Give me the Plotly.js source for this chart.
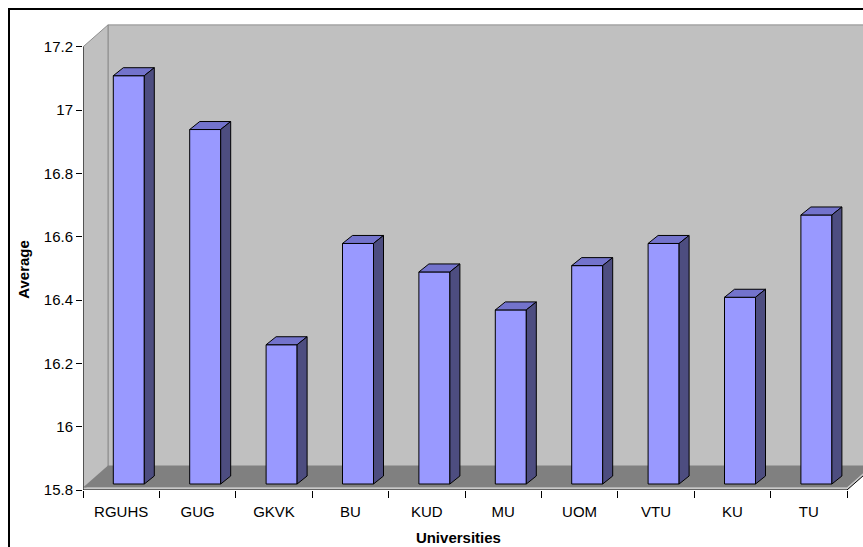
<!DOCTYPE html>
<html>
<head>
<meta charset="utf-8">
<script src="https://cdn.plot.ly/plotly-3.0.1.min.js"></script>
<style>
  html, body { margin: 0; padding: 0; background: #fff; overflow: hidden; }
  #wrap { position: relative; width: 863px; height: 547px; overflow: hidden; }
  #chart { position: absolute; left: 0; top: 0; width: 863px; height: 547px; }
  #frame { position: absolute; left: 8px; top: 8px; width: 1000px; height: 1000px;
           border: 2px solid #000; pointer-events: none; }
</style>
</head>
<body>
<div id="wrap">
  <div id="chart"></div>
  <div id="frame"></div>
</div>
<script>
// ---- data ----
const categories = ['RGUHS', 'GUG', 'GKVK', 'BU', 'KUD', 'MU', 'UOM', 'VTU', 'KU', 'TU'];
const averages   = [17.09, 16.92, 16.24, 16.56, 16.47, 16.35, 16.49, 16.56, 16.39, 16.65];
const yTickVals  = [15.8, 16, 16.2, 16.4, 16.6, 16.8, 17, 17.2];
const yTickText  = ['15.8', '16', '16.2', '16.4', '16.6', '16.8', '17', '17.2'];
const xTitle = 'Universities';
const yTitle = 'Average';
const yMin = 15.8, yMax = 17.2;

// ---- geometry (pixels -> data units) ----
const W = 863, H = 547;
const M = { l: 83, r: 0, t: 24, b: 57 };
const PX_PER_CAT = 76.4;            // px per category on the front plane
const PX_PER_UNIT = 316.5;          // px per 1.0 of value
const plotW = W - M.l - M.r, plotH = H - M.t - M.b;
const xRange = [-0.5, -0.5 + plotW / PX_PER_CAT];
const yRange = [yMin, yMin + plotH / PX_PER_UNIT];
const dx = p => p / PX_PER_CAT, dy = p => p / PX_PER_UNIT;

const WALL = { x: dx(25), y: dy(22) };   // depth of walls/floor
const FRONT = { x: dx(7.6), y: dy(6) };  // bar front plane offset
const DEPTH = { x: dx(10), y: dy(8) };   // bar depth
const HALF = dx(15.5);                   // half width of bar face
const n = categories.length;
const xL = -0.5, xR = n - 0.5;

const pth = pts => 'M ' + pts.map(p => p[0] + ',' + p[1]).join(' L ') + ' Z';
const pad = k => '&nbsp;'.repeat(k);

const shapes = [];
// back wall
shapes.push({ type: 'rect', xref: 'x', yref: 'y', layer: 'below',
  x0: xL + WALL.x, x1: xR + WALL.x, y0: yMin + WALL.y, y1: yMax + WALL.y,
  fillcolor: '#C0C0C0', line: { color: '#8C8C8C', width: 1 } });
// side wall
shapes.push({ type: 'path', xref: 'x', yref: 'y', layer: 'below',
  path: pth([[xL, yMin], [xL, yMax], [xL + WALL.x, yMax + WALL.y], [xL + WALL.x, yMin + WALL.y]]),
  fillcolor: '#C0C0C0', line: { color: '#8C8C8C', width: 1 } });
// floor front edge strip
const t = dy(2.5);
shapes.push({ type: 'path', xref: 'x', yref: 'y', layer: 'below',
  path: pth([[xL, yMin], [xR, yMin], [xR + WALL.x, yMin + WALL.y], [xR + WALL.x, yMin + WALL.y + t], [xR, yMin + t], [xL, yMin + t]]),
  fillcolor: '#C8C8C8', line: { width: 0 } });
// floor
shapes.push({ type: 'path', xref: 'x', yref: 'y', layer: 'below',
  path: pth([[xL, yMin + t], [xR, yMin + t], [xR + WALL.x, yMin + WALL.y + t], [xL + WALL.x, yMin + WALL.y + t]]),
  fillcolor: '#808080', line: { width: 0 } });
// front axis lines
shapes.push({ type: 'path', xref: 'x', yref: 'y', layer: 'below',
  path: 'M ' + xL + ',' + yMin + ' L ' + xR + ',' + yMin + ' L ' + (xR + WALL.x) + ',' + (yMin + WALL.y),
  line: { color: '#000', width: 1 } });
shapes.push({ type: 'line', xref: 'x', yref: 'y', layer: 'below',
  x0: xL, x1: xL, y0: yMin, y1: yMax, line: { color: '#000', width: 1 } });

// bar top and side faces
const barX = categories.map((c, i) => i + FRONT.x);
averages.forEach((v, i) => {
  const xl = i + FRONT.x - HALF, xr = i + FRONT.x + HALF;
  const yb = yMin + FRONT.y, yt = v + FRONT.y;
  shapes.push({ type: 'path', xref: 'x', yref: 'y', layer: 'above',
    path: pth([[xl, yt], [xr, yt], [xr + DEPTH.x, yt + DEPTH.y], [xl + DEPTH.x, yt + DEPTH.y]]),
    fillcolor: '#7373CC', line: { color: '#000', width: 1 } });
  shapes.push({ type: 'path', xref: 'x', yref: 'y', layer: 'above',
    path: pth([[xr, yb], [xr, yt], [xr + DEPTH.x, yt + DEPTH.y], [xr + DEPTH.x, yb + DEPTH.y]]),
    fillcolor: '#4D4D80', line: { color: '#000', width: 1 } });
});

const trace = {
  type: 'bar',
  x: barX,
  y: averages.map(v => v - yMin),
  base: yMin + FRONT.y,
  width: 2 * HALF,
  text: categories,
  customdata: averages,
  hovertemplate: '%{text}: %{customdata}<extra></extra>',
  textposition: 'none',
  marker: { color: '#9999FF', line: { color: '#000', width: 1 } }
};

const font = { family: '"Liberation Sans", Arial, sans-serif', color: '#000' };

const layout = {
  width: W, height: H,
  margin: M,
  paper_bgcolor: '#fff',
  plot_bgcolor: 'rgba(0,0,0,0)',
  showlegend: false,
  font: Object.assign({ size: 15 }, font),
  xaxis: {
    type: 'linear', range: xRange, fixedrange: true,
    showgrid: false, zeroline: false, showline: false,
    tickmode: 'array', tickvals: categories.map((c, i) => i), ticktext: categories,
    ticks: 'outside', ticklen: 8, tickcolor: 'rgba(0,0,0,0)',
    tickfont: Object.assign({ size: 15 }, font),
    minor: { tickmode: 'linear', tick0: -0.5, dtick: 1, ticks: 'outside', ticklen: 7, tickwidth: 1, tickcolor: '#000', showgrid: false },
    title: { text: '<b>' + xTitle + '</b>' + pad(7), font: Object.assign({ size: 15 }, font), standoff: 13 }
  },
  yaxis: {
    type: 'linear', range: yRange, fixedrange: true,
    showgrid: false, zeroline: false, showline: false,
    tickmode: 'array', tickvals: yTickVals, ticktext: yTickText,
    ticks: 'outside', ticklen: 6, tickwidth: 1, tickcolor: '#000',
    tickfont: Object.assign({ size: 15 }, font),
    title: { text: '<b>' + yTitle + '</b>' + pad(6), font: Object.assign({ size: 15 }, font), standoff: 10 }
  },
  shapes: shapes
};

Plotly.newPlot('chart', [trace], layout, { displayModeBar: false });
</script>
</body>
</html>
